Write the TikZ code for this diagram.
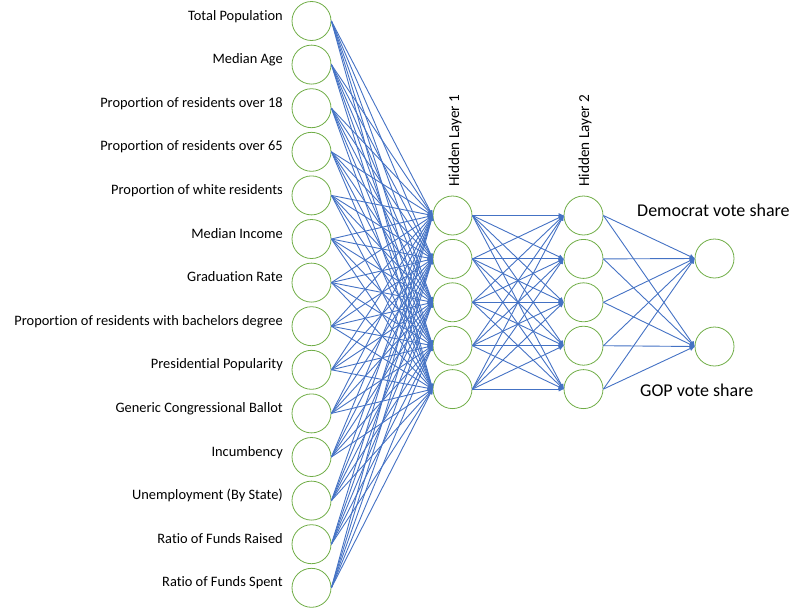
\documentclass[tikz,border=0pt]{standalone}
\usepackage{fontspec}
\setmainfont{Carlito}[Ligatures=NoCommon]
\usetikzlibrary{arrows.meta}
\definecolor{nodegreen}{RGB}{112,173,71}
\definecolor{edgeblue}{RGB}{68,114,196}
\begin{document}
\begin{tikzpicture}[x=1pt,y=-1pt,
  neuron/.style={circle,draw=nodegreen,line width=0.8pt,minimum size=39pt,inner sep=0pt},
  edge/.style={draw=edgeblue,line width=0.9pt,-{Triangle[length=5pt,width=4.5pt]}},
  inlabel/.style={anchor=base east,inner sep=0pt,font=\fontsize{14.4}{17}\selectfont},
  hidlabel/.style={anchor=base west,rotate=90,inner sep=0pt,font=\fontsize{15.2}{18}\selectfont},
  outlabel/.style={anchor=base west,inner sep=0pt,font=\fontsize{18}{21}\selectfont}]
\useasboundingbox (0,0) rectangle (800,608);
% input layer
\foreach \i/\t in {1/Total Population,2/Median Age,3/Proportion of residents over 18,4/Proportion of residents over 65,5/Proportion of white residents,6/Median Income,7/Graduation Rate,8/Proportion of residents with bachelors degree,9/Presidential Popularity,10/Generic Congressional Ballot,11/Incumbency,12/Unemployment (By State),13/Ratio of Funds Raised,14/Ratio of Funds Spent}{
  \node[neuron] (in\i) at (311.5,{21+(\i-1)*43.6}) {};
  \node[inlabel] (lab\i) at (283,{21+(\i-1)*43.6-1}) {\t};
}
% hidden layers
\foreach \j in {1,...,5}{
  \node[neuron] (ha\j) at (452.5,{215.5+(\j-1)*43.4}) {};
  \node[neuron] (hb\j) at (583.5,{215.5+(\j-1)*43.4}) {};
}
% outputs
\node[neuron] (o1) at (714.5,258.5) {};
\node[neuron] (o2) at (714.5,346.5) {};
% labels
\node[hidlabel] (hl1) at (459,187) {Hidden Layer 1};
\node[hidlabel] (hl2) at (589,187) {Hidden Layer 2};
\node[outlabel] (ol1) at (637,216) {Democrat vote share};
\node[outlabel] (ol2) at (640,396) {GOP vote share};
% edges
\foreach \i in {1,...,14}{
  \foreach \j in {1,...,5}{
    \draw[edge] (in\i.east) -- (ha\j.west);
  }
}
\foreach \i in {1,...,5}{
  \foreach \j in {1,...,5}{
    \draw[edge] (ha\i.east) -- (hb\j.west);
  }
  \draw[edge] (hb\i.east) -- (o1.west);
  \draw[edge] (hb\i.east) -- (o2.west);
}
\end{tikzpicture}
\end{document}
